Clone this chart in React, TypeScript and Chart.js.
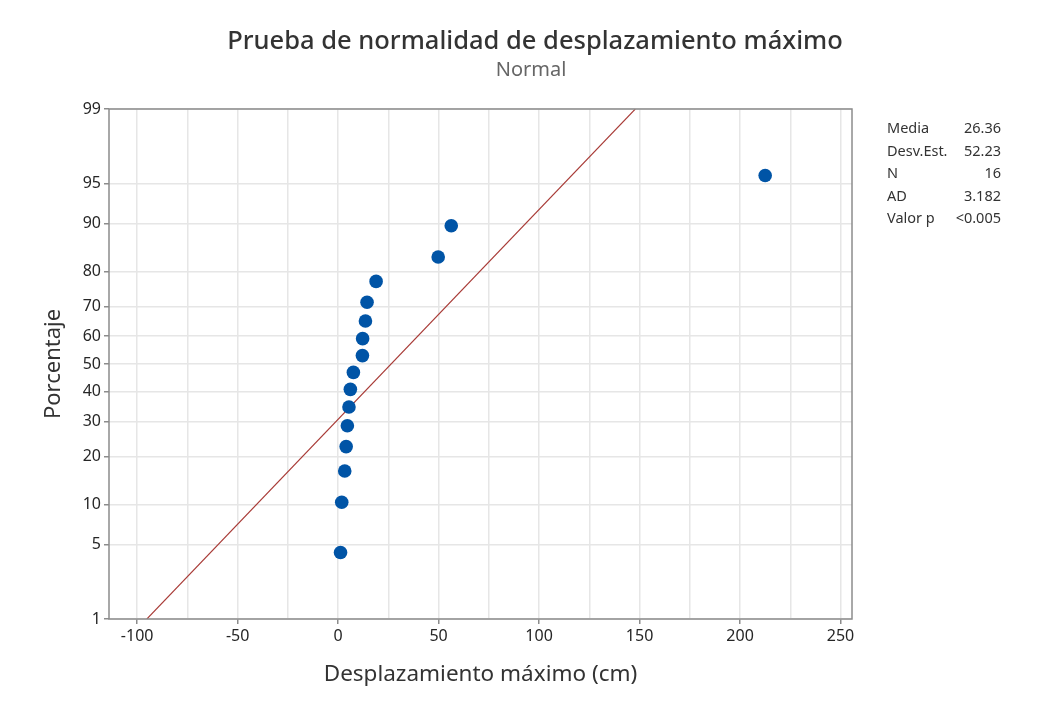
import React, { useEffect, useRef } from 'react';
import { Chart, registerables } from 'chart.js';

Chart.register(...registerables);

// Data
const xValues = [1.2, 1.8, 3.3, 4.0, 4.6, 5.4, 6.1, 7.6, 12.1, 12.2, 13.6, 14.4, 18.9, 49.8, 56.3, 212.5];
const yPercents = [4.27, 10.37, 16.46, 22.56, 28.66, 34.76, 40.85, 46.95, 53.05, 59.15, 65.24, 71.34, 77.44, 83.54, 89.63, 95.73];
const yTickPercents = [1, 5, 10, 20, 30, 40, 50, 60, 70, 80, 90, 95, 99];
const xTickValues = [-100, -75, -50, -25, 0, 25, 50, 75, 100, 125, 150, 175, 200, 225, 250];
const fitMean = 26.36;
const fitStdDev = 52.23;
const fitPercents = [1, 99];
const statLabels = ['Media', 'Desv.Est.', 'N', 'AD', 'Valor p'];
const statValues = ['26.36', '52.23', '16', '3.182', '<0.005'];

const TITLE = 'Prueba de normalidad de desplazamiento máximo';
const SUBTITLE = 'Normal';
const FONT = "'Noto Sans', 'Open Sans', sans-serif";

// Inverse standard normal CDF (Acklam)
function probit(p: number): number {
  const a = [-3.969683028665376e1, 2.209460984245205e2, -2.759285104469687e2, 1.38357751867269e2, -3.066479806614716e1, 2.506628277459239];
  const b = [-5.447609879822406e1, 1.615858368580409e2, -1.556989798598866e2, 6.680131188771972e1, -1.328068155288572e1];
  const c = [-7.784894002430293e-3, -3.223964580411365e-1, -2.400758277161838, -2.549732539343734, 4.374664141464968, 2.938163982698783];
  const d = [7.784695709041462e-3, 3.224671290700398e-1, 2.445134137142996, 3.754408661907416];
  const pl = 0.02425;
  if (p < pl) {
    const q = Math.sqrt(-2 * Math.log(p));
    return (((((c[0] * q + c[1]) * q + c[2]) * q + c[3]) * q + c[4]) * q + c[5]) / ((((d[0] * q + d[1]) * q + d[2]) * q + d[3]) * q + 1);
  }
  if (p > 1 - pl) {
    const q = Math.sqrt(-2 * Math.log(1 - p));
    return -(((((c[0] * q + c[1]) * q + c[2]) * q + c[3]) * q + c[4]) * q + c[5]) / ((((d[0] * q + d[1]) * q + d[2]) * q + d[3]) * q + 1);
  }
  const q = p - 0.5;
  const r = q * q;
  return (((((a[0] * r + a[1]) * r + a[2]) * r + a[3]) * r + a[4]) * r + a[5]) * q / (((((b[0] * r + b[1]) * r + b[2]) * r + b[3]) * r + b[4]) * r + 1);
}

const textPlugin = {
  id: 'textPlugin',
  afterDraw(chart: any) {
    const ctx = chart.ctx;
    const area = chart.chartArea;
    ctx.save();
    // frame
    ctx.strokeStyle = '#8c8c8c';
    ctx.lineWidth = 1.5;
    ctx.strokeRect(area.left, area.top, area.right - area.left, area.bottom - area.top);
    // title
    ctx.fillStyle = '#333333';
    ctx.textAlign = 'center';
    ctx.textBaseline = 'middle';
    ctx.font = `500 25.5px ${FONT}`;
    ctx.fillText(TITLE, 535, 42);
    ctx.fillStyle = '#666666';
    ctx.font = `20px ${FONT}`;
    ctx.fillText(SUBTITLE, 531, 70);
    // stats
    ctx.fillStyle = '#333333';
    ctx.font = `14.5px ${FONT}`;
    statLabels.forEach((lab, i) => {
      const y = 129 + i * 22.5;
      ctx.textAlign = 'left';
      ctx.fillText(lab, 887, y);
      ctx.textAlign = 'right';
      ctx.fillText(statValues[i], 1001, y);
    });
    ctx.restore();
  },
};

export default function App() {
  const canvasRef = useRef<HTMLCanvasElement | null>(null);

  useEffect(() => {
    if (!canvasRef.current) return;
    const points = xValues.map((x, i) => ({ x, y: probit(yPercents[i] / 100) }));
    const fitLine = fitPercents.map((p) => {
      const z = probit(p / 100);
      return { x: fitMean + fitStdDev * z, y: z };
    });
    const yMin = probit(yTickPercents[0] / 100);
    const yMax = probit(yTickPercents[yTickPercents.length - 1] / 100);

    const chart = new Chart(canvasRef.current, {
      type: 'scatter',
      data: {
        datasets: [
          {
            label: 'Datos',
            data: points,
            backgroundColor: '#0054A6',
            borderColor: '#0054A6',
            pointRadius: 6.8,
            pointHoverRadius: 6.8,
            borderWidth: 0,
          },
          {
            label: 'Ajuste',
            data: fitLine,
            showLine: true,
            borderColor: '#a83a36',
            borderWidth: 1.1,
            pointRadius: 0,
            fill: false,
          },
        ],
      },
      options: {
        animation: false,
        responsive: true,
        maintainAspectRatio: false,
        layout: { padding: { left: 0, top: 109, right: 205, bottom: 0 } },
        plugins: {
          legend: { display: false },
          tooltip: { enabled: false },
          title: { display: false },
        },
        scales: {
          x: {
            type: 'linear',
            min: -114,
            max: 255.7,
            afterBuildTicks: (scale: any) => {
              scale.ticks = xTickValues.map((v) => ({ value: v }));
            },
            afterFit: (scale: any) => {
              scale.height = 87;
            },
            grid: {
              color: '#e6e6e6',
              lineWidth: 1.5,
              tickLength: 5,
              tickColor: (ctx: any) => (ctx.tick && ctx.tick.value % 50 === 0 ? '#8c8c8c' : 'rgba(0,0,0,0)'),
            },
            border: { display: false },
            ticks: {
              autoSkip: false,
              maxRotation: 0,
              padding: 3,
              color: '#262626',
              font: { family: FONT, size: 16 },
              callback: (value: any) => (Number(value) % 50 === 0 ? String(value) : ''),
            },
            title: {
              display: true,
              text: 'Desplazamiento máximo (cm)',
              color: '#333333',
              font: { family: FONT, size: 22.5 },
              padding: { top: 0, bottom: 18 },
            },
          },
          y: {
            type: 'linear',
            min: yMin,
            max: yMax,
            afterBuildTicks: (scale: any) => {
              scale.ticks = yTickPercents.map((p) => ({ value: probit(p / 100) }));
            },
            afterFit: (scale: any) => {
              scale.width = 109;
            },
            grid: {
              color: '#e6e6e6',
              lineWidth: 1.5,
              tickLength: 5,
              tickColor: '#8c8c8c',
            },
            border: { display: false },
            ticks: {
              autoSkip: false,
              padding: 3,
              color: '#262626',
              font: { family: FONT, size: 16 },
              callback: (_v: any, index: number) => String(yTickPercents[index]),
            },
            title: {
              display: true,
              text: 'Porcentaje',
              color: '#333333',
              font: { family: FONT, size: 22 },
              padding: { top: 41, bottom: 0 },
            },
          },
        },
      },
      plugins: [textPlugin],
    });
    return () => chart.destroy();
  }, []);

  return (
    <div style={{ position: 'fixed', left: 0, top: 0, width: 1057, height: 706, background: '#ffffff' }}>
      <canvas ref={canvasRef} />
    </div>
  );
}
